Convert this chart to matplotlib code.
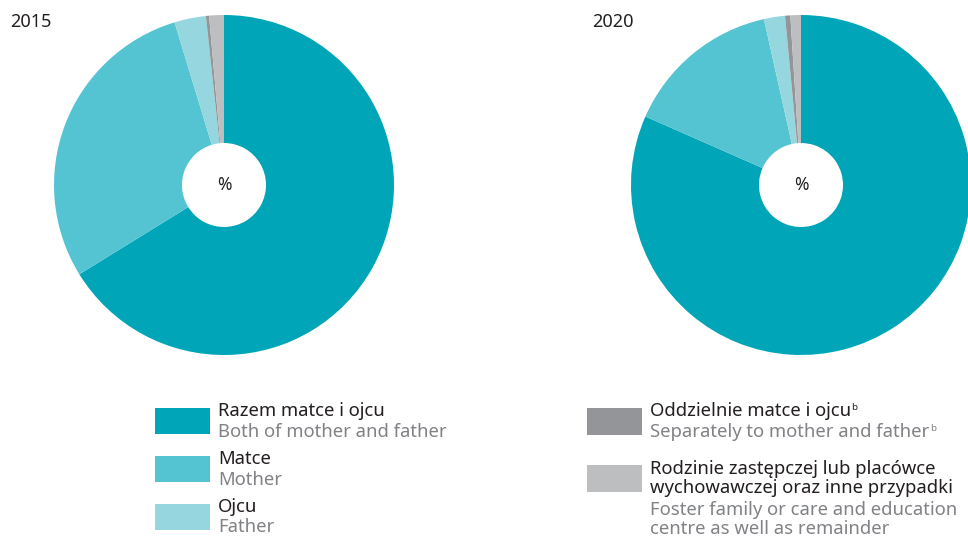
import matplotlib.pyplot as plt

# shares (%), clockwise from 12 o'clock
years = ["2015", "2020"]
shares_2015 = [66.2, 29.1, 3.0, 0.3, 1.4]
shares_2020 = [81.6, 14.9, 2.0, 0.5, 1.0]
colors = ["#00a6b8", "#55c4d2", "#96d6df", "#939598", "#bcbec0"]

leg_left = [("Razem matce i ojcu", "Both of mother and father"),
            ("Matce", "Mother"),
            ("Ojcu", "Father")]
leg_right = [("Oddzielnie matce i ojcu", "Separately to mother and father"),
             ("Rodzinie zastępczej lub placówce\nwychowawczej oraz inne przypadki",
              "Foster family or care and education\ncentre as well as remainder")]

plt.rcParams['font.family'] = ['Noto Sans', 'DejaVu Sans']
W, H = 968, 538
fig = plt.figure(figsize=(W / 100, H / 100), dpi=100)

def fx(x):
    return x / W

def fy(y):
    return 1 - y / H

def draw_pie(cx, cy, r, vals, year, tx):
    ax = fig.add_axes([fx(cx - r), fy(cy + r), 2 * r / W, 2 * r / H])
    ax.pie(vals, colors=colors, startangle=90, counterclock=False,
           radius=1, wedgeprops=dict(width=1 - 42 / r, linewidth=0))
    ax.set_xlim(-1, 1)
    ax.set_ylim(-1, 1)
    ax.set_aspect('auto')
    ax.axis('off')
    ax.text(0, 0, "%", ha='center', va='center', fontsize=12.5, color="#231f20")
    fig.text(fx(tx), fy(22), year, fontsize=13, color="#231f20", va='center')

draw_pie(224, 185, 170, shares_2015, years[0], 10)
draw_pie(801, 185, 170, shares_2020, years[1], 592)

fs = 13.3
dark = "#231f20"
grey = "#808285"

def legend_item(x0, ytop, h, color, pl, en, base_pl, base_en, sup=False):
    fig.patches.append(plt.Rectangle((fx(x0), fy(ytop + h)), 55 / W, h / H,
                                     transform=fig.transFigure, facecolor=color,
                                     edgecolor='none'))
    t1 = fig.text(fx(x0 + 63), fy(base_pl), pl, fontsize=fs, color=dark,
                  va='baseline', linespacing=1.08)
    t2 = fig.text(fx(x0 + 63), fy(base_en), en, fontsize=fs, color=grey,
                  va='baseline', linespacing=1.08)
    if sup:
        for t, c in ((t1, dark), (t2, grey)):
            plt.annotate("b", xy=(1, 1), xycoords=t, xytext=(0.3, -1),
                         textcoords='offset points', fontsize=7, color=c,
                         va='top', ha='left', annotation_clip=False)

legend_item(155, 408, 26, colors[0], leg_left[0][0], leg_left[0][1], 416, 437)
legend_item(155, 456, 26, colors[1], leg_left[1][0], leg_left[1][1], 464, 485)
legend_item(155, 504, 26, colors[2], leg_left[2][0], leg_left[2][1], 512, 532)

legend_item(587, 408, 27, colors[3], leg_right[0][0], leg_right[0][1], 416, 437, sup=True)
legend_item(587, 465, 27, colors[4], leg_right[1][0], leg_right[1][1], 493, 534)

fig.savefig("out.png", dpi=100)
